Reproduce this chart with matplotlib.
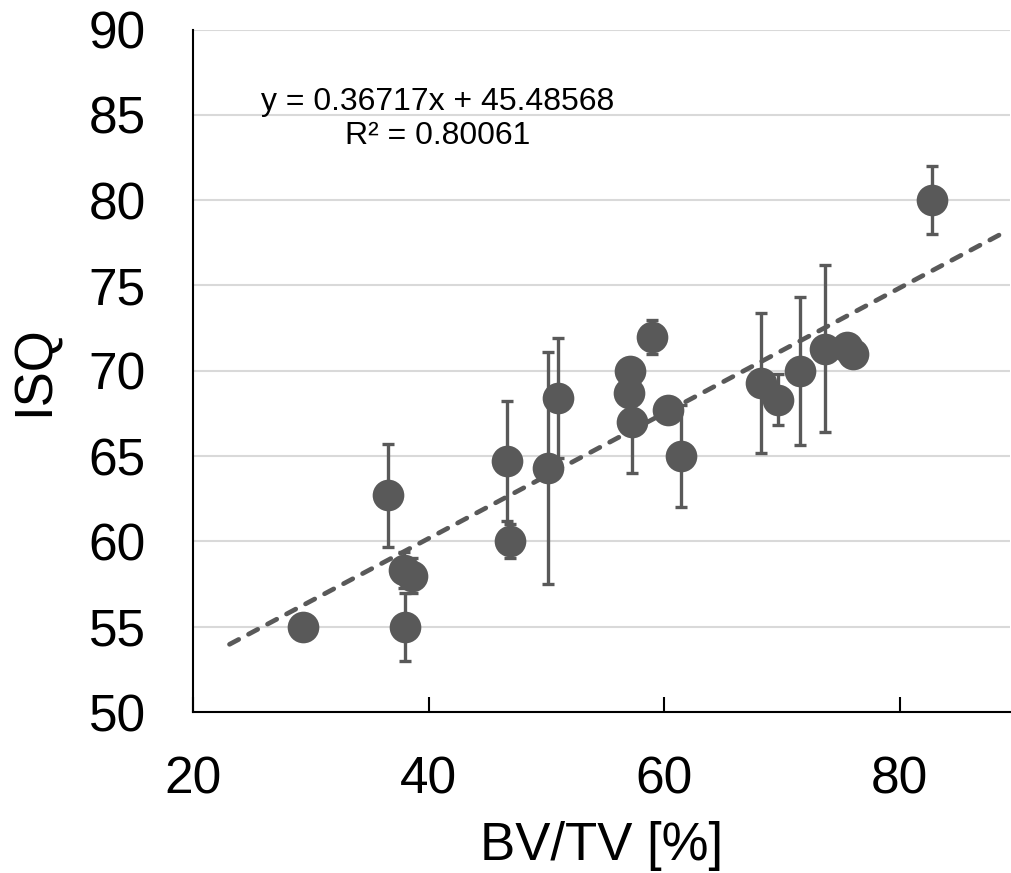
import matplotlib
matplotlib.use("Agg")
import matplotlib.pyplot as plt
import numpy as np

plt.rcParams['font.family'] = ['Liberation Sans', 'DejaVu Sans']
plt.rcParams['lines.scale_dashes'] = False

# Data (BV/TV [%], ISQ mean, ISQ SD)
bvtv = [29.3, 36.55, 37.9, 38.6, 38.0, 46.65, 46.9, 50.1, 51.0,
        57.1, 57.0, 57.3, 59.0, 60.3, 61.4, 68.2, 69.7, 71.5,
        73.65, 75.5, 76.0, 82.7]
isq = [55.0, 62.7, 58.3, 58.0, 55.0, 64.7, 60.0, 64.3, 68.4,
       70.0, 68.7, 67.0, 72.0, 67.7, 65.0, 69.3, 68.3, 70.0,
       71.3, 71.4, 71.0, 80.0]
isq_sd = [0.0, 3.0, 1.05, 1.0, 2.0, 3.5, 1.0, 6.8, 3.5,
          0.0, 0.0, 3.0, 1.0, 0.0, 3.0, 4.1, 1.5, 4.35,
          4.9, 0.0, 0.0, 2.0]

slope = 0.36717
intercept = 45.48568
r2 = 0.80061
fit_x = [23.1, 89.2]

x_ticks = [20, 40, 60, 80]
y_ticks = [50, 55, 60, 65, 70, 75, 80, 85, 90]

color = '#595959'

fig = plt.figure(figsize=(10.12, 8.73), dpi=100)
ax = fig.add_axes([0.1907, 0.1844, 0.8073, 0.7818])

ax.errorbar(bvtv, isq, yerr=isq_sd, fmt='none', ecolor=color,
            elinewidth=2.4, capsize=4.1, capthick=2.4, zorder=3)
ax.plot(bvtv, isq, linestyle='none', marker='o', markersize=22.8,
        color=color, markeredgewidth=0, zorder=4)

fx = np.array(fit_x)
ax.plot(fx, slope * fx + intercept, color=color, linewidth=3.4,
        dashes=(7.5, 8), dash_capstyle='round', zorder=5)

ax.set_xlim(20, 89.35)
ax.set_ylim(50, 90)
ax.set_xticks(x_ticks)
ax.set_yticks(y_ticks)

ax.grid(axis='y', color='#d9d9d9', linewidth=1.5, zorder=0)
ax.set_axisbelow(True)
for s in ['top', 'right']:
    ax.spines[s].set_visible(False)
for s in ['left', 'bottom']:
    ax.spines[s].set_color('black')
    ax.spines[s].set_linewidth(1.5)

ax.tick_params(axis='x', direction='in', length=11, width=1.5,
               labelsize=37, pad=31, color='black')
ax.tick_params(axis='y', length=0, labelsize=37, pad=34)

ax.set_xlabel('BV/TV [%]', fontsize=38, labelpad=12)
ax.set_ylabel('ISQ', fontsize=38, labelpad=21)

fig.text(438 / 1012, 1 - 119 / 873,
         f'y = {slope:.5f}x + {intercept:.5f}\nR² = {r2:.5f}',
         ha='center', va='center', fontsize=23, linespacing=1.15,
         color='black')

fig.savefig('out.png', dpi=100)
